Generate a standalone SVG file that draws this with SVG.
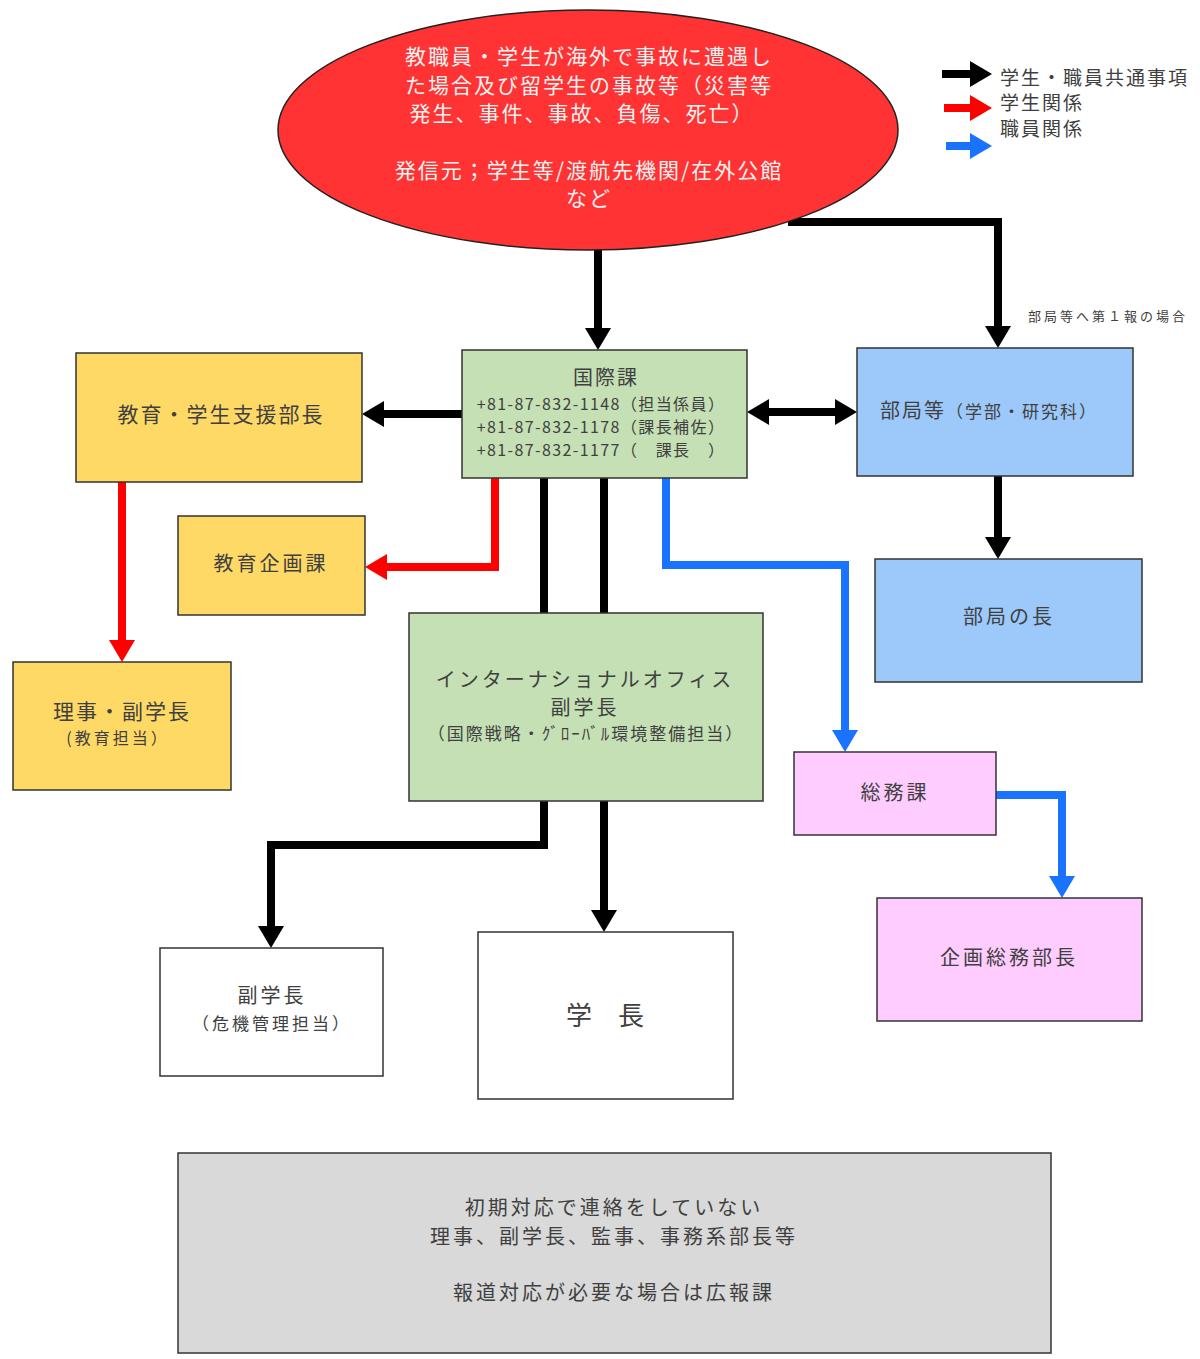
<svg xmlns="http://www.w3.org/2000/svg" width="1200" height="1359" viewBox="0 0 1200 1359">
<style>
text{font-family:"Noto Sans CJK JP","Noto Sans",sans-serif;fill:#404040;text-anchor:middle}
.box{stroke:#333;stroke-width:1.5}
.y{fill:#ffd966}.g{fill:#c5e0b4}.b{fill:#9cc8fa}.p{fill:#ffccff}.w{fill:#fff}.gr{fill:#d9d9d9}
.k{fill:none;stroke:#000;stroke-width:8;stroke-linejoin:miter}
.r{fill:none;stroke:#ff0000;stroke-width:8}
.bl{fill:none;stroke:#1a73ff;stroke-width:8}
.ls2{letter-spacing:2px}.ls3{letter-spacing:3px}
.el{font-size:21px;letter-spacing:2px;fill:#f2f2f2}
.ph{font-size:16px;letter-spacing:1.4px}
</style>
<defs>
<marker id="ak" markerUnits="userSpaceOnUse" markerWidth="24" markerHeight="28" refX="10" refY="13" orient="auto-start-reverse" overflow="visible"><path d="M0,0 L22,13 L0,26 z" fill="#000"/></marker>
<marker id="ar" markerUnits="userSpaceOnUse" markerWidth="24" markerHeight="28" refX="10" refY="13" orient="auto" overflow="visible"><path d="M0,0 L22,13 L0,26 z" fill="#ff0000"/></marker>
<marker id="ab" markerUnits="userSpaceOnUse" markerWidth="24" markerHeight="28" refX="10" refY="13" orient="auto" overflow="visible"><path d="M0,0 L22,13 L0,26 z" fill="#1a73ff"/></marker>
</defs>
<rect width="1200" height="1359" fill="#fff"/>

<g id="connectors">
<path class="k" d="M598,248 V338" marker-end="url(#ak)"/>
<path class="k" d="M788,222 H998 V336" marker-end="url(#ak)"/>
<path class="k" d="M462,414 H374" marker-end="url(#ak)"/>
<path class="k" d="M759,412 H845" marker-start="url(#ak)" marker-end="url(#ak)"/>
<path class="r" d="M495,478 V567 H377" marker-end="url(#ar)"/>
<path class="r" d="M122,482 V650" marker-end="url(#ar)"/>
<path class="k" d="M544,478 V613"/>
<path class="k" d="M604,478 V613"/>
<path class="bl" d="M666,478 V565 H845 V740" marker-end="url(#ab)"/>
<path class="k" d="M998,476 V547" marker-end="url(#ak)"/>
<path class="k" d="M544,801 V845 H271 V936" marker-end="url(#ak)"/>
<path class="k" d="M604,801 V920" marker-end="url(#ak)"/>
<path class="bl" d="M996,795 H1062 V886" marker-end="url(#ab)"/>
</g>

<g id="legend">
<path class="k" d="M942,74 H980" marker-end="url(#ak)"/>
<path class="r" d="M944,108 H980" marker-end="url(#ar)"/>
<path class="bl" d="M946,146 H980" marker-end="url(#ab)"/>
<text x="1000" y="85" font-size="19" class="ls2" style="text-anchor:start">学生・職員共通事項</text>
<text x="1000" y="110" font-size="19" class="ls2" style="text-anchor:start">学生関係</text>
<text x="1000" y="136" font-size="19" class="ls2" style="text-anchor:start">職員関係</text>
</g>
<text x="1028" y="321" font-size="13" class="ls3" style="text-anchor:start">部局等へ第１報の場合</text>

<g id="origin">
<ellipse cx="588" cy="130" rx="310" ry="120" fill="#ff3333" stroke="#222" stroke-width="1.5"/>
<text x="589" y="64" class="el">教職員・学生が海外で事故に遭遇し</text>
<text x="589" y="93" class="el">た場合及び留学生の事故等（災害等</text>
<text x="582" y="121" class="el">発生、事件、事故、負傷、死亡）</text>
<text x="589" y="178" class="el">発信元；学生等/渡航先機関/在外公館</text>
<text x="589" y="206" class="el">など</text>
</g>

<g id="kokusaika">
<rect class="box g" x="462" y="350" width="285" height="128"/>
<text x="606" y="385" font-size="20" class="ls2">国際課</text>
<text x="601" y="410" class="ph">+81-87-832-1148（担当係員）</text>
<text x="601" y="433" class="ph">+81-87-832-1178（課長補佐）</text>
<text x="601" y="456" class="ph">+81-87-832-1177（　課長　）</text>
</g>

<g id="kyoiku-bucho">
<rect class="box y" x="76" y="353" width="286" height="129"/>
<text x="221" y="422" font-size="21" class="ls2">教育・学生支援部長</text>
</g>

<g id="bukyoku">
<rect class="box b" x="857" y="348" width="276" height="128"/>
<text x="880" y="418" font-size="20" class="ls2" style="text-anchor:start">部局等<tspan font-size="17">（学部・研究科）</tspan></text>
</g>

<g id="kyoiku-kikaku">
<rect class="box y" x="178" y="516" width="187" height="99"/>
<text x="271" y="571" font-size="20" class="ls3">教育企画課</text>
</g>

<g id="bukyoku-cho">
<rect class="box b" x="875" y="559" width="267" height="123"/>
<text x="1009" y="624" font-size="20" class="ls3">部局の長</text>
</g>

<g id="io">
<rect class="box g" x="409" y="613" width="354" height="188"/>
<text x="585" y="687" font-size="20" class="ls3">インターナショナルオフィス</text>
<text x="585" y="715" font-size="20" class="ls3">副学長</text>
<text x="586" y="740" font-size="17" class="ls2">（国際戦略・ｸﾞﾛｰﾊﾞﾙ環境整備担当）</text>
</g>

<g id="riji">
<rect class="box y" x="13" y="662" width="218" height="128"/>
<text x="122" y="719" font-size="21" class="ls2">理事・副学長</text>
<text x="118" y="744" font-size="16" class="ls3">(教育担当）</text>
</g>

<g id="somuka">
<rect class="box p" x="794" y="752" width="202" height="83"/>
<text x="895" y="800" font-size="20" class="ls3">総務課</text>
</g>

<g id="kikaku-somu">
<rect class="box p" x="877" y="898" width="265" height="123"/>
<text x="1009" y="965" font-size="20" class="ls3">企画総務部長</text>
</g>

<g id="fuku-gakucho">
<rect class="box w" x="160" y="948" width="223" height="128"/>
<text x="272" y="1003" font-size="20" class="ls3">副学長</text>
<text x="272" y="1030" font-size="17" class="ls3">（危機管理担当）</text>
</g>

<g id="gakucho">
<rect class="box w" x="478" y="932" width="255" height="167"/>
<text x="605" y="1025" font-size="26">学　長</text>
</g>

<g id="note">
<rect class="box gr" x="178" y="1153" width="873" height="200"/>
<text x="614" y="1215" font-size="20" class="ls3">初期対応で連絡をしていない</text>
<text x="614" y="1244" font-size="20" class="ls3">理事、副学長、監事、事務系部長等</text>
<text x="614" y="1300" font-size="20" class="ls3">報道対応が必要な場合は広報課</text>
</g>
</svg>
